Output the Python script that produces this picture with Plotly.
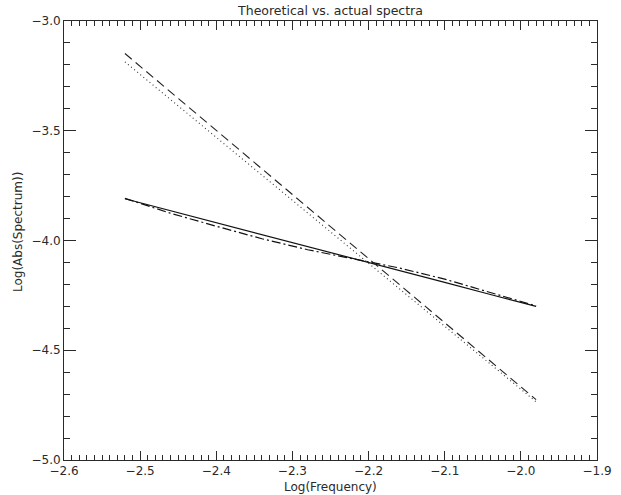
import plotly.graph_objects as go

# Data
log_freq = [-2.52, -2.46, -2.40, -2.34, -2.28, -2.22, -2.16, -2.10, -2.04, -1.98]
actual_solid = [-3.810, -3.864, -3.919, -3.973, -4.028, -4.082, -4.137, -4.191, -4.246, -4.300]
actual_dashdot = [-3.808, -3.876, -3.935, -3.992, -4.042, -4.085, -4.125, -4.176, -4.236, -4.298]
theory_dashed = [-3.148, -3.323, -3.498, -3.674, -3.849, -4.024, -4.199, -4.375, -4.550, -4.725]
theory_dotted = [-3.186, -3.358, -3.530, -3.702, -3.874, -4.047, -4.219, -4.391, -4.563, -4.735]

x_ticks = [-2.6, -2.5, -2.4, -2.3, -2.2, -2.1, -2.0, -1.9]
x_tick_text = ["−2.6", "−2.5", "−2.4", "−2.3", "−2.2", "−2.1", "−2.0", "−1.9"]
y_ticks = [-5.0, -4.5, -4.0, -3.5, -3.0]
y_tick_text = ["−5.0", "−4.5", "−4.0", "−3.5", "−3.0"]

INK = "#2a2a2a"
FONT = "DejaVu Sans"

L, R, T, B = 64, 597, 21, 460
W, H = 621, 495
PW, PH = R - L, B - T

fig = go.Figure()
fig.add_trace(go.Scatter(x=log_freq, y=actual_solid, mode="lines",
                         line=dict(color="#111111", width=1.2), name="solid"))
fig.add_trace(go.Scatter(x=log_freq, y=actual_dashdot, mode="lines",
                         line=dict(color="#111111", width=1.2, dash="9px,3px,2px,3px"), name="dashdot"))
fig.add_trace(go.Scatter(x=log_freq, y=theory_dashed, mode="lines",
                         line=dict(color="#222222", width=1.1, dash="9px,5px"), name="dashed"))
fig.add_trace(go.Scatter(x=log_freq, y=theory_dotted, mode="lines",
                         line=dict(color="#333333", width=1.1, dash="1px,3px"), name="dotted"))

axis_common = dict(
    showgrid=False, zeroline=False, showline=True, linecolor=INK, linewidth=1,
    mirror="ticks", ticks="inside", tickcolor=INK, tickwidth=1,
    tickfont=dict(family=FONT, size=12, color=INK),
)

fig.update_layout(
    width=W, height=H,
    margin=dict(l=L, r=W - R, t=T, b=H - B, autoexpand=False),
    paper_bgcolor="white", plot_bgcolor="white",
    showlegend=False,
    title=dict(text="Theoretical vs. actual spectra", x=0.5, xref="paper",
               y=1 - 11 / H, yref="container", yanchor="middle", xanchor="center",
               font=dict(family=FONT, size=12.5, color=INK)),
    xaxis=dict(range=[-2.6, -1.9], tickvals=x_ticks, ticktext=x_tick_text, ticklen=9,
               minor=dict(ticks="inside", dtick=0.01, ticklen=5, tickcolor=INK, tickwidth=1),
               **axis_common),
    yaxis=dict(range=[-5.0, -3.0], tickvals=y_ticks, ticktext=y_tick_text, ticklen=12,
               minor=dict(ticks="inside", dtick=0.1, ticklen=6, tickcolor=INK, tickwidth=1),
               **axis_common),
    annotations=[
        dict(text="Log(Frequency)", xref="paper", yref="paper", x=0.5, y=-(487 - B) / PH,
             xanchor="center", yanchor="middle", showarrow=False,
             font=dict(family=FONT, size=12, color=INK)),
        dict(text="Log(Abs(Spectrum))", xref="paper", yref="paper", x=-(L - 18) / PW,
             y=(B - 232) / PH,
             xanchor="center", yanchor="middle", showarrow=False, textangle=-90,
             font=dict(family=FONT, size=12, color=INK)),
    ],
)

fig.write_html("out.html", config={"displayModeBar": False},
               post_script="document.body.style.margin='0px';document.body.style.overflow='hidden';")
